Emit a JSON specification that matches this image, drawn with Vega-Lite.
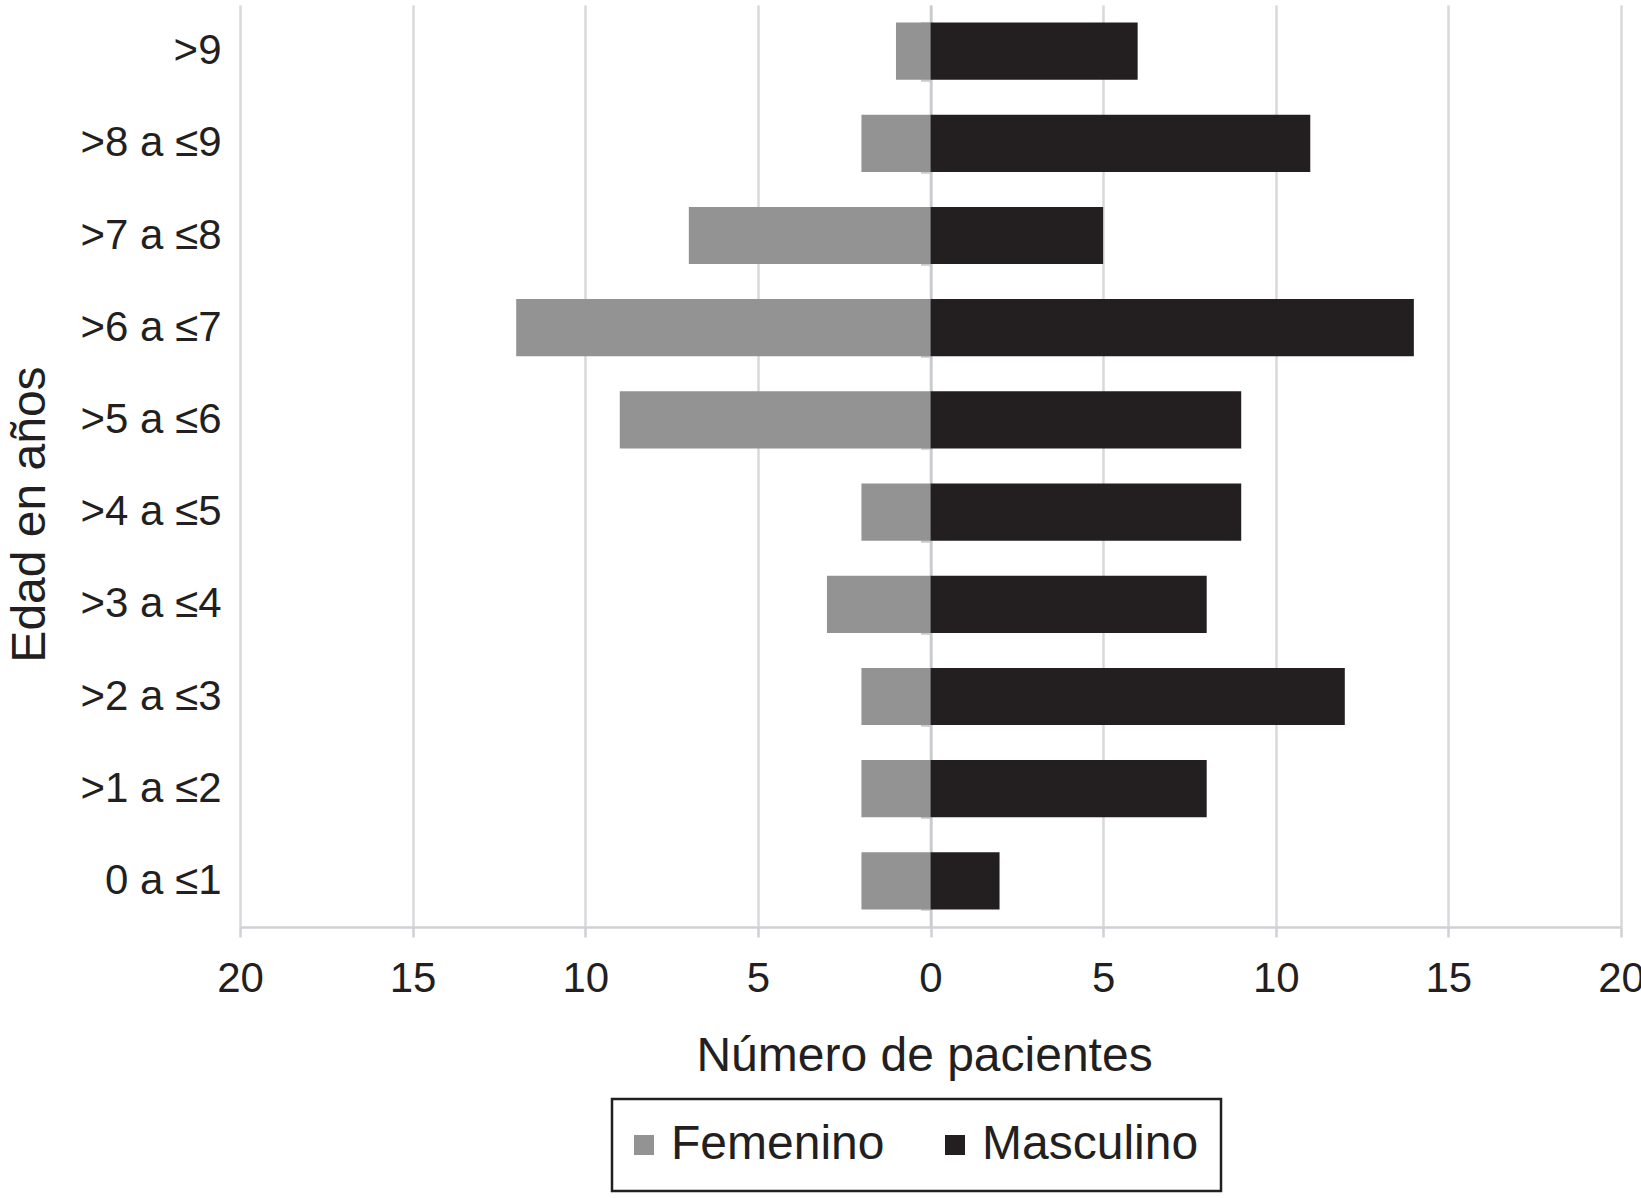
{
  "$schema": "https://vega.github.io/schema/vega-lite/v6.json",
  "width": 1381,
  "height": 922,
  "autosize": {"type": "none"},
  "padding": {"left": 240, "top": 5, "right": 20, "bottom": 271},
  "background": "white",
  "config": {
    "font": "Liberation Sans",
    "view": {"stroke": null}
  },
  "data": {
    "values": [
      {"edad": ">9", "sexo": "Femenino", "valor": -1},
      {"edad": ">9", "sexo": "Masculino", "valor": 6},
      {"edad": ">8 a ≤9", "sexo": "Femenino", "valor": -2},
      {"edad": ">8 a ≤9", "sexo": "Masculino", "valor": 11},
      {"edad": ">7 a ≤8", "sexo": "Femenino", "valor": -7},
      {"edad": ">7 a ≤8", "sexo": "Masculino", "valor": 5},
      {"edad": ">6 a ≤7", "sexo": "Femenino", "valor": -12},
      {"edad": ">6 a ≤7", "sexo": "Masculino", "valor": 14},
      {"edad": ">5 a ≤6", "sexo": "Femenino", "valor": -9},
      {"edad": ">5 a ≤6", "sexo": "Masculino", "valor": 9},
      {"edad": ">4 a ≤5", "sexo": "Femenino", "valor": -2},
      {"edad": ">4 a ≤5", "sexo": "Masculino", "valor": 9},
      {"edad": ">3 a ≤4", "sexo": "Femenino", "valor": -3},
      {"edad": ">3 a ≤4", "sexo": "Masculino", "valor": 8},
      {"edad": ">2 a ≤3", "sexo": "Femenino", "valor": -2},
      {"edad": ">2 a ≤3", "sexo": "Masculino", "valor": 12},
      {"edad": ">1 a ≤2", "sexo": "Femenino", "valor": -2},
      {"edad": ">1 a ≤2", "sexo": "Masculino", "valor": 8},
      {"edad": "0 a ≤1", "sexo": "Femenino", "valor": -2},
      {"edad": "0 a ≤1", "sexo": "Masculino", "valor": 2}
    ]
  },
  "resolve": {"axis": {"y": "independent"}},
  "layer": [
    {
      "mark": {"type": "bar"},
      "encoding": {
        "y": {
          "field": "edad",
          "type": "nominal",
          "sort": null,
          "scale": {"paddingInner": 0.38, "paddingOuter": 0.19},
          "axis": {
            "title": "Edad en años",
            "titleFontSize": 48,
            "titleFontWeight": "normal",
            "titleColor": "#231f20",
            "titleAngle": -90,
            "titleBaseline": "alphabetic",
            "titleX": -196,
            "titleY": 509,
            "labelFontSize": 42,
            "labelColor": "#231f20",
            "labelPadding": 19,
            "ticks": false,
            "domain": false,
            "grid": false
          }
        },
        "x": {
          "field": "valor",
          "type": "quantitative",
          "stack": null,
          "scale": {"domain": [-20, 20], "nice": false},
          "axis": {
            "title": "Número de pacientes",
            "titleFontSize": 48,
            "titleFontWeight": "normal",
            "titleColor": "#231f20",
            "titlePadding": 33,
            "titleX": 684,
            "values": [-20, -15, -10, -5, 0, 5, 10, 15, 20],
            "labelExpr": "abs(datum.value)",
            "labelFontSize": 42,
            "labelColor": "#231f20",
            "labelPadding": 21,
            "labelFlush": false,
            "tickSize": 10,
            "tickColor": "#cfd1d4",
            "tickWidth": 2.5,
            "domainColor": "#cfd1d4",
            "domainWidth": 2.5,
            "grid": true,
            "gridColor": "#d6d8db",
            "gridWidth": 2.5
          }
        },
        "color": {
          "field": "sexo",
          "type": "nominal",
          "scale": {"domain": ["Femenino", "Masculino"], "range": ["#939393", "#231f20"]},
          "legend": {
            "title": null,
            "orient": "none",
            "direction": "horizontal",
            "legendX": 372,
            "legendY": 1094,
            "labelFontSize": 48,
            "labelColor": "#231f20",
            "labelLimit": 500,
            "labelOffset": 3,
            "symbolOffset": -14,
            "symbolType": "square",
            "symbolSize": 400,
            "symbolStrokeWidth": 0,
            "columnPadding": 60,
            "padding": 22,
            "strokeColor": "#231f20",
            "encode": {"legend": {"update": {"strokeWidth": {"value": 2.5}}}}
          }
        }
      }
    },
    {
      "mark": {"type": "tick", "opacity": 0},
      "encoding": {
        "y": {
          "field": "edad",
          "type": "nominal",
          "sort": null,
          "axis": {
            "orient": "right",
            "offset": -690.5,
            "title": null,
            "labels": false,
            "domain": true,
            "domainColor": "#c8cacd",
            "domainWidth": 2.5,
            "ticks": true,
            "tickBand": "extent",
            "tickSize": -10,
            "tickColor": "#c8cacd",
            "tickWidth": 2.5,
            "grid": false
          }
        },
        "x": {"datum": 0, "type": "quantitative"}
      }
    }
  ]
}
